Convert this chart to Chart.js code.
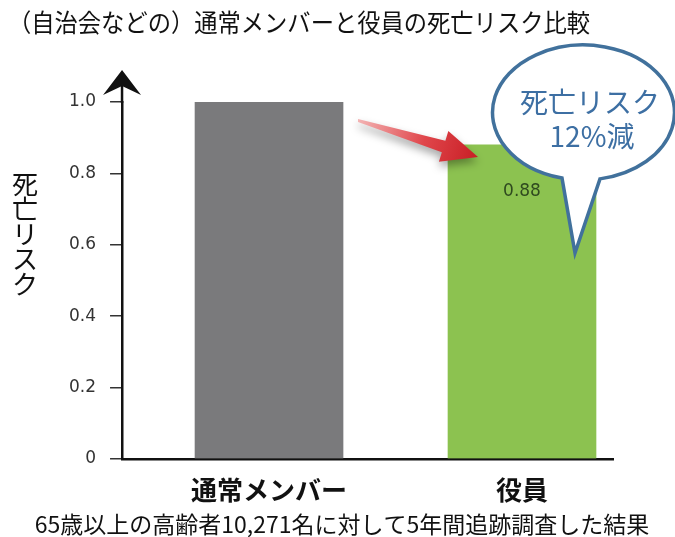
<!DOCTYPE html>
<html>
<head>
<meta charset="utf-8">
<script src="https://cdn.jsdelivr.net/npm/chart.js@4"></script>
<style>
  body { margin: 0; background: #fff; }
  #wrap { width: 675px; height: 537px; }
</style>
</head>
<body>
<div id="wrap"><canvas id="riskChart"></canvas></div>
<script>
// data
const categories = ['通常メンバー', '役員'];
const riskValues = [1.0, 0.88];
const barColors = ['#7a7a7c', '#8cc250'];
const yTicks = [0, 0.2, 0.4, 0.6, 0.8, 1.0];

const titleText = '（自治会などの）通常メンバーと役員の死亡リスク比較';
const yTitle = '死亡リスク';
const footText = '65歳以上の高齢者10,271名に対して5年間追跡調査した結果';
const bubbleLines = ['死亡リスク', '12%減'];

const jp = "'Noto Sans CJK JP', 'Noto Sans', sans-serif";

// extra drawings: title, footer, axis arrow, red arrow, callout
const decorPlugin = {
    id: 'decor',
    afterDraw(chart) {
        const ctx = chart.ctx;
        const area = chart.chartArea;
        const xs = chart.scales.x;
        const ys = chart.scales.y;

        ctx.save();

        // title
        ctx.fillStyle = '#111';
        ctx.font = '25px ' + jp;
        ctx.textAlign = 'left';
        ctx.textBaseline = 'middle';
        ctx.fillText(titleText, 8, 22, 582);

        // footer
        ctx.font = '23px ' + jp;
        ctx.textAlign = 'center';
        ctx.fillText(footText, 342, 524, 620);

        // vertical y title
        ctx.font = '26px ' + jp;
        ctx.textBaseline = 'middle';
        for (let i = 0; i < yTitle.length; i++) {
            ctx.fillText(yTitle[i], 25, 184 + i * 25);
        }

        // y axis extension + arrow head
        const ax = area.left;
        ctx.strokeStyle = '#111';
        ctx.lineWidth = 2.5;
        ctx.beginPath();
        ctx.moveTo(ax, area.top + 1);
        ctx.lineTo(ax, 86);
        ctx.stroke();
        ctx.fillStyle = '#111';
        ctx.beginPath();
        ctx.moveTo(ax, 70);
        ctx.lineTo(ax + 19, 95);
        ctx.lineTo(ax, 86);
        ctx.lineTo(ax - 19, 95);
        ctx.closePath();
        ctx.fill();

        // value label in green bar
        const gx = xs.getPixelForValue(1);
        const gy = ys.getPixelForValue(riskValues[1]);
        ctx.fillStyle = '#2f4a1f';
        ctx.font = '17px "DejaVu Sans"';
        ctx.textAlign = 'center';
        ctx.fillText(riskValues[1].toFixed(2), gx, gy + 47);

        // red arrow
        const tail = { x: 358, y: 120 };
        const tip = { x: 478, y: 157 };
        const dx = tip.x - tail.x, dy = tip.y - tail.y;
        const len = Math.hypot(dx, dy);
        const ux = dx / len, uy = dy / len;
        const nx = -uy, ny = ux;
        const bx = tip.x - 36 * ux, by = tip.y - 36 * uy;
        ctx.save();
        ctx.shadowColor = 'rgba(0,0,0,0.35)';
        ctx.shadowBlur = 8;
        ctx.shadowOffsetY = 5;
        const grad = ctx.createLinearGradient(tail.x, tail.y, tip.x, tip.y);
        grad.addColorStop(0, '#f3b4b4');
        grad.addColorStop(0.55, '#e0464b');
        grad.addColorStop(1, '#c81e25');
        ctx.fillStyle = grad;
        ctx.beginPath();
        ctx.moveTo(tail.x, tail.y - 1);
        ctx.lineTo(bx - 6 * nx, by - 6 * ny);
        ctx.lineTo(bx - 16 * nx, by - 16 * ny);
        ctx.lineTo(tip.x, tip.y);
        ctx.lineTo(bx + 16 * nx, by + 16 * ny);
        ctx.lineTo(bx + 6 * nx, by + 6 * ny);
        ctx.lineTo(tail.x, tail.y + 2);
        ctx.closePath();
        ctx.fill();
        ctx.restore();

        // speech bubble
        const cx = 583.5, cy = 112.5, rx = 91, ry = 67.5;
        const a1 = Math.acos((562 - cx) / rx);
        const a2 = Math.acos((600 - cx) / rx);
        ctx.beginPath();
        ctx.ellipse(cx, cy, rx, ry, 0, a1, a2 + Math.PI * 2);
        ctx.lineTo(575, 253);
        ctx.closePath();
        ctx.fillStyle = '#fff';
        ctx.fill();
        ctx.strokeStyle = '#41719c';
        ctx.lineWidth = 3.5;
        ctx.lineJoin = 'miter';
        ctx.stroke();

        ctx.fillStyle = '#3d6fa3';
        ctx.font = '28px ' + jp;
        ctx.textAlign = 'center';
        ctx.fillText(bubbleLines[0], 590, 102);
        ctx.fillText(bubbleLines[1], 592, 136);

        ctx.restore();
    }
};

const config = {
    type: 'bar',
    data: {
        datasets: [{
            data: categories.map((c, i) => ({ x: i, y: riskValues[i] })),
            backgroundColor: barColors,
            borderWidth: 0,
            barThickness: 148
        }]
    },
    options: {
        responsive: true,
        maintainAspectRatio: false,
        animation: false,
        layout: {
            padding: { left: 55, right: 62, top: 102, bottom: 15 }
        },
        plugins: {
            legend: { display: false },
            tooltip: { enabled: false }
        },
        scales: {
            x: {
                type: 'linear',
                bounds: 'data',
                offset: false,
                min: -0.581,
                max: 1.3597,
                afterBuildTicks: (scale) => {
                    scale.ticks = categories.map((c, i) => ({ value: i }));
                },
                ticks: {
                    callback: (v) => categories[v],
                    color: '#111',
                    font: { family: jp, size: 26, weight: 'bold' },
                    padding: 16,
                    maxRotation: 0
                },
                grid: { display: false, drawTicks: false, offset: false },
                border: { color: '#111', width: 2.5 }
            },
            y: {
                min: 0,
                max: 1,
                afterBuildTicks: (scale) => {
                    scale.ticks = yTicks.map(v => ({ value: v }));
                },
                ticks: {
                    callback: (v) => v === 0 ? '0' : v.toFixed(1),
                    color: '#333',
                    font: { family: 'DejaVu Sans', size: 17 },
                    padding: 14
                },
                grid: {
                    drawOnChartArea: false,
                    drawTicks: true,
                    tickLength: 12,
                    color: '#333',
                    lineWidth: 1.5
                },
                border: { color: '#111', width: 2.5 }
            }
        }
    },
    plugins: [decorPlugin]
};

const riskChart = new Chart(document.getElementById('riskChart'), config);
</script>
</body>
</html>
